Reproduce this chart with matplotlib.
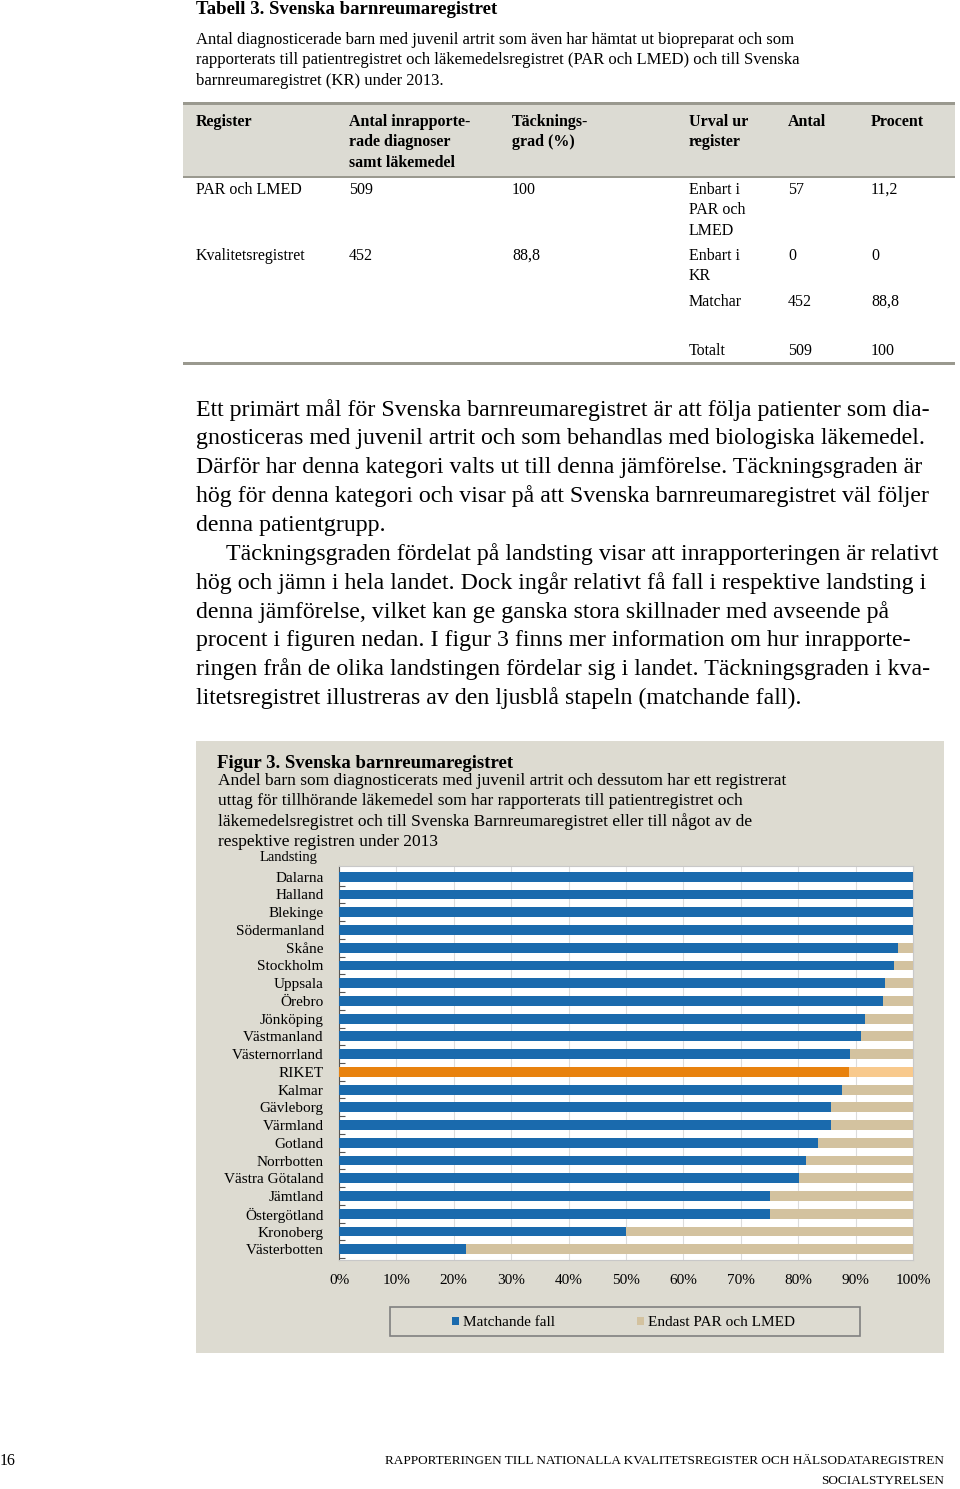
import numpy as np
import matplotlib.pyplot as plt
from matplotlib.patches import Rectangle

# ===============================
# DATA
# ===============================

landsting = ["Dalarna", "Halland", "Blekinge", "Södermanland", "Skåne", "Stockholm",
             "Uppsala", "Örebro", "Jönköping", "Västmanland", "Västernorrland", "RIKET",
             "Kalmar", "Gävleborg", "Värmland", "Gotland", "Norrbotten", "Västra Götaland",
             "Jämtland", "Östergötland", "Kronoberg", "Västerbotten"]
matchande = [100, 100, 100, 100, 97.3, 96.7, 95.2, 94.7, 91.7, 91.0, 89.0, 88.8,
             87.6, 85.8, 85.8, 83.4, 81.3, 80.1, 75.1, 75.1, 50.0, 22.2]
endast_par = [100 - m for m in matchande]
x_ticks = [0, 10, 20, 30, 40, 50, 60, 70, 80, 90, 100]

table_header = [["Register"], ["Antal inrapporte-", "rade diagnoser", "samt läkemedel"],
                ["Täcknings-", "grad (%)"], ["Urval ur", "register"], ["Antal"], ["Procent"]]
table_rows = [
    (190, ["PAR och LMED"], ["509"], ["100"], ["Enbart i", "PAR och", "LMED"], ["57"], ["11,2"]),
    (256, ["Kvalitetsregistret"], ["452"], ["88,8"], ["Enbart i", "KR"], ["0"], ["0"]),
    (302, [""], [""], [""], ["Matchar"], ["452"], ["88,8"]),
    (351, [""], [""], [""], ["Totalt"], ["509"], ["100"]),
]

body_lines = [
    "Ett primärt mål för Svenska barnreumaregistret är att följa patienter som dia-",
    "gnosticeras med juvenil artrit och som behandlas med biologiska läkemedel.",
    "Därför har denna kategori valts ut till denna jämförelse. Täckningsgraden är",
    "hög för denna kategori och visar på att Svenska barnreumaregistret väl följer",
    "denna patientgrupp.",
    "Täckningsgraden fördelat på landsting visar att inrapporteringen är relativt",
    "hög och jämn i hela landet. Dock ingår relativt få fall i respektive landsting i",
    "denna jämförelse, vilket kan ge ganska stora skillnader med avseende på",
    "procent i figuren nedan. I figur 3 finns mer information om hur inrapporte-",
    "ringen från de olika landstingen fördelar sig i landet. Täckningsgraden i kva-",
    "litetsregistret illustreras av den ljusblå stapeln (matchande fall).",
]

# ===============================
# PLOTTING
# ===============================

W, H = 960, 1489
plt.rcParams['font.family'] = ['Liberation Serif', 'DejaVu Serif']
fig = plt.figure(figsize=(W / 100, H / 100), dpi=100)
fig.patch.set_facecolor("white")


def txt(x, y, s, size=11, **kw):
    fig.text(x / W, 1 - y / H, s, fontsize=size, va="center", zorder=5, **kw)


def rect(x, y, w, h, z=1, **kw):
    fig.add_artist(Rectangle((x / W, 1 - (y + h) / H), w / W, h / H,
                             transform=fig.transFigure, zorder=z, **kw))


# Tabell 3
txt(196, 10, "Tabell 3. Svenska barnreumaregistret", 13.5, fontweight="bold")
caption = ["Antal diagnosticerade barn med juvenil artrit som även har hämtat ut biopreparat och som",
           "rapporterats till patientregistret och läkemedelsregistret (PAR och LMED) och till Svenska",
           "barnreumaregistret (KR) under 2013."]
for i, line in enumerate(caption):
    txt(196, 40 + i * 20.5, line, 12)

tab_bg = "#dcdbd3"
rect(183, 103, 772, 74, facecolor=tab_bg, edgecolor="none")
rect(183, 102, 772, 3, facecolor="#9a998f", edgecolor="none")
rect(183, 176, 772, 2, facecolor="#9a998f", edgecolor="none")
rect(183, 362, 772, 3, facecolor="#9a998f", edgecolor="none")

col_x = [196, 349, 512, 689, 788, 871]
for cx, lines in zip(col_x, table_header):
    for j, line in enumerate(lines):
        txt(cx, 122 + j * 20.5, line, 11.5, fontweight="bold")
for row in table_rows:
    y0 = row[0]
    for cx, lines in zip(col_x, row[1:]):
        for j, line in enumerate(lines):
            txt(cx, y0 + j * 20.5, line, 11.5)

# Body paragraph
for i, line in enumerate(body_lines):
    x0 = 226 if i == 5 else 196
    txt(x0, 410 + i * 28.8, line, 17.2)

# Figure box
rect(196, 741, 748, 612, z=0, facecolor="#dddbd1", edgecolor="none")
txt(217, 763, "Figur 3. Svenska barnreumaregistret", 13.5, fontweight="bold")
sub = ["Andel barn som diagnosticerats med juvenil artrit och dessutom har ett registrerat",
       "uttag för tillhörande läkemedel som har rapporterats till patientregistret och",
       "läkemedelsregistret och till Svenska Barnreumaregistret eller till något av de",
       "respektive registren under 2013"]
for i, line in enumerate(sub):
    txt(218, 781 + i * 20.3, line, 12.5)
txt(260, 857, "Landsting", 10.5)

ax = fig.add_axes([339 / W, 1 - 1260 / H, (913 - 339) / W, (1260 - 866) / H])
ax.set_zorder(3)
ax.set_facecolor("white")
y = np.arange(len(landsting))
blue_c = ["#e8820e" if n == "RIKET" else "#1a6aad" for n in landsting]
beige_c = ["#f8c98c" if n == "RIKET" else "#d3c29f" for n in landsting]
ax.barh(y, matchande, height=0.55, color=blue_c, zorder=3)
ax.barh(y, endast_par, left=matchande, height=0.55, color=beige_c, zorder=3)
ax.set_xlim(0, 100)
ax.set_ylim(len(landsting) - 0.4, -0.6)
ax.set_xticks(x_ticks)
ax.set_xticklabels([f"{t}%" for t in x_ticks], fontsize=11)
ax.tick_params(axis="x", length=0, pad=10)
ax.grid(axis="x", color="#dcdcdc", linewidth=0.8, zorder=0)
ax.set_yticks(y)
ax.set_yticklabels(landsting, fontsize=11)
ax.tick_params(axis="y", length=0, pad=11)
ax.set_yticks(y + 0.5, minor=True)
ax.tick_params(axis="y", which="minor", length=4, direction="in", color="#555555", width=0.8)
for s in ["top", "right", "bottom"]:
    ax.spines[s].set_color("#c8c8c8")
ax.spines["left"].set_color("#555555")

# Legend box
rect(390, 1307, 470, 29, facecolor="none", edgecolor="#808080", linewidth=1.2)
rect(452, 1317, 7, 8, facecolor="#1a6aad", edgecolor="none")
txt(463, 1322, "Matchande fall", 11)
rect(637, 1317, 7, 8, facecolor="#d3c29f", edgecolor="none")
txt(648, 1322, "Endast PAR och LMED", 11)

# Footer
txt(0, 1461, "16", 11.5)
txt(944, 1461, "RAPPORTERINGEN TILL NATIONALLA KVALITETSREGISTER OCH HÄLSODATAREGISTREN", 9.5, ha="right")
txt(944, 1481, "SOCIALSTYRELSEN", 9.5, ha="right")

plt.savefig("out.png", dpi=100)
